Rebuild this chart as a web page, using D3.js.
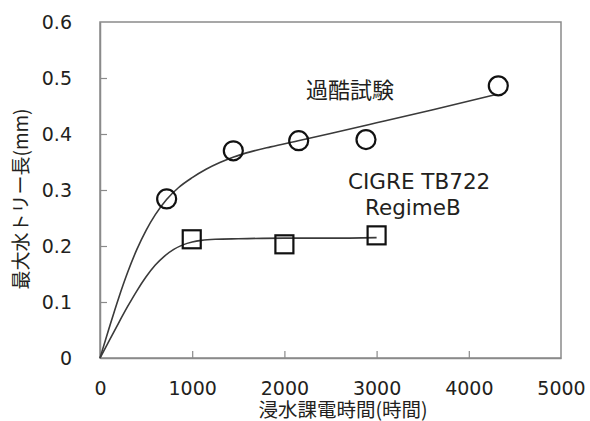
<!DOCTYPE html>
<html>
<head>
<meta charset="utf-8">
<script src="https://cdn.jsdelivr.net/npm/d3@7"></script>
<style>
  html, body { margin: 0; padding: 0; background: #fff; }
  text { font-family: "DejaVu Sans", "Noto Sans CJK JP", sans-serif; fill: #231f20; }
</style>
</head>
<body>
<div id="chart"></div>
<script>
// ---------- data ----------
const severeHours = [723, 1446, 2155, 2885, 4320];
const severeTree  = [0.284, 0.370, 0.388, 0.390, 0.486];

const cigreHours = [995, 2000, 3000];
const cigreTree  = [0.212, 0.203, 0.219];

// fitted curves, traced
const severeFitX = [0, 100, 200, 300, 400, 500, 600, 722, 850, 1000, 1150, 1300, 1450, 1650, 1850, 2150, 2500, 3000, 3600, 4284];
const severeFitY = [0, 0.054, 0.106, 0.153, 0.194, 0.228, 0.256, 0.283, 0.304, 0.322, 0.337, 0.349, 0.359, 0.369, 0.377, 0.388, 0.401, 0.420, 0.443, 0.470];

const cigreFitX = [0, 100, 200, 300, 400, 500, 600, 700, 800, 900, 1000, 1100, 1250, 1500, 2000, 2500, 3000];
const cigreFitY = [0, 0.031, 0.062, 0.092, 0.120, 0.145, 0.166, 0.182, 0.194, 0.202, 0.207, 0.210, 0.212, 0.213, 0.214, 0.214, 0.215];

const xTicks = [0, 1000, 2000, 3000, 4000, 5000];
const yTicks = [0, 0.1, 0.2, 0.3, 0.4, 0.5, 0.6];

const xTitle = "浸水課電時間(時間)";
const yTitle = "最大水トリー長(mm)";

// ---------- layout ----------
const W = 590, H = 421;
const pad = { left: 100, top: 22, right: 29, bottom: 63 };
const w = W - pad.left - pad.right;
const h = H - pad.top - pad.bottom;
const axisCol = "#8a8a8a";

const svg = d3.select("#chart").append("svg").attr("width", W).attr("height", H);
const g = svg.append("g").attr("transform", `translate(${pad.left},${pad.top})`);

const x = d3.scaleLinear().domain([0, 5000]).range([0, w]);
const y = d3.scaleLinear().domain([0, 0.6]).range([h, 0]);

// frame
g.append("rect").attr("width", w).attr("height", h)
  .attr("fill", "none").attr("stroke", axisCol).attr("stroke-width", 1.5);

// axes (inner ticks)
const xAxis = g.append("g").attr("transform", `translate(0,${h})`)
  .call(d3.axisBottom(x).tickValues(xTicks).tickSizeInner(-7).tickSizeOuter(0).tickPadding(24).tickFormat(d3.format("d")));
const yAxis = g.append("g")
  .call(d3.axisLeft(y).tickValues(yTicks).tickSizeInner(-7).tickSizeOuter(0).tickPadding(28)
    .tickFormat(d => d === 0 ? "0" : d3.format(".1f")(d)));

[xAxis, yAxis].forEach(a => {
  a.select(".domain").attr("stroke", axisCol).attr("stroke-width", 1.5);
  a.selectAll(".tick line").attr("stroke", axisCol).attr("stroke-width", 1.2);
  a.selectAll(".tick text").style("font-size", "19px").attr("fill", "#231f20");
});
xAxis.selectAll(".tick line").filter(d => d === 0 || d === 5000).remove();
yAxis.selectAll(".tick line").filter(d => d === 0 || d === 0.6).remove();

// fitted curves
const line = d3.line().x(d => x(d[0])).y(d => y(d[1])).curve(d3.curveMonotoneX);
[[severeFitX, severeFitY], [cigreFitX, cigreFitY]].forEach(([xs, ys]) => {
  g.append("path")
    .attr("d", line(xs.map((v, i) => [v, ys[i]])))
    .attr("fill", "none").attr("stroke", "#3a3a3a").attr("stroke-width", 1.6);
});

// markers
g.append("g").selectAll("circle").data(severeHours).enter().append("circle")
  .attr("cx", d => x(d)).attr("cy", (d, i) => y(severeTree[i])).attr("r", 9.5)
  .attr("fill", "none").attr("stroke", "#111").attr("stroke-width", 2.2);

const sq = 18;
g.append("g").selectAll("rect").data(cigreHours).enter().append("rect")
  .attr("x", d => x(d) - sq / 2).attr("y", (d, i) => y(cigreTree[i]) - sq / 2)
  .attr("width", sq).attr("height", sq)
  .attr("fill", "none").attr("stroke", "#111").attr("stroke-width", 2.2);

// labels
svg.append("text").attr("x", 306).attr("y", 88).attr("dominant-baseline", "central")
  .style("font-family", "'Noto Sans CJK JP', sans-serif").style("font-size", "22px").text("過酷試験");
svg.append("text").attr("x", 348).attr("y", 189).style("font-size", "21.5px").text("CIGRE TB722");
svg.append("text").attr("x", 365).attr("y", 215).style("font-size", "21.5px").text("RegimeB");

// axis titles
svg.append("text").attr("x", 343).attr("y", 408).attr("text-anchor", "middle").attr("dominant-baseline", "central")
  .style("font-family", "'Noto Sans CJK JP', sans-serif").style("font-size", "19.5px").text(xTitle);
svg.append("text").attr("transform", "translate(19,199) rotate(-90)")
  .attr("text-anchor", "middle").attr("dominant-baseline", "central")
  .style("font-family", "'Noto Sans CJK JP', sans-serif").style("font-size", "19px").text(yTitle);
</script>
</body>
</html>
